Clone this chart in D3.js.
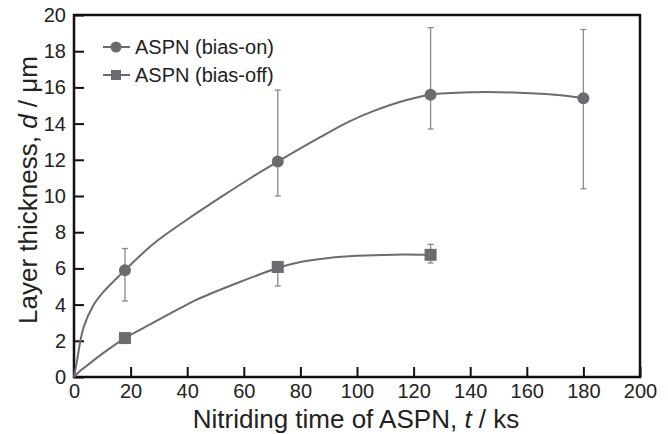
<!DOCTYPE html>
<html>
<head>
<meta charset="utf-8">
<script src="https://cdn.jsdelivr.net/npm/d3@7"></script>
<style>
  body { margin: 0; background: #fff; }
  svg { font-family: "Liberation Sans", Arial, sans-serif; }
</style>
</head>
<body>
<div id="vis"></div>
<script>
// data
const onT = [18, 72, 126, 180];
const onD = [5.9, 11.9, 15.6, 15.4];
const onLo = [4.2, 10.0, 13.7, 10.4];
const onHi = [7.1, 15.85, 19.3, 19.2];

const offT = [18, 72, 126];
const offD = [2.15, 6.08, 6.75];
const offLo = [2.0, 5.03, 6.3];
const offHi = [2.3, 6.3, 7.33];

// fitted curves
const onFitT = [0, 1, 3.3, 6.8, 10.4, 18, 28, 40, 52, 63, 72, 87, 97, 106, 117.5, 126, 141, 155, 170, 180];
const onFitD = [0, 0.85, 2.7, 3.95, 4.7, 5.9, 7.35, 8.7, 9.95, 11.05, 11.9, 13.25, 14.1, 14.7, 15.3, 15.6, 15.73, 15.72, 15.6, 15.42];
const offFitT = [0, 2, 4.5, 10.4, 18, 28, 37.5, 43, 57, 72, 80, 90, 100, 113, 126];
const offFitD = [0, 0.32, 0.62, 1.33, 2.15, 3.0, 3.8, 4.25, 5.15, 6.02, 6.35, 6.58, 6.7, 6.76, 6.75];

const xTicks = d3.range(0, 201, 20);
const yTicks = d3.range(0, 21, 2);

const W = 668, H = 434;
const M = { left: 74, right: 28, top: 15, bottom: 57 };
const LINE = "#6b6b70", BAR = "#8a8a8e";

const svg = d3.select("#vis").append("svg").attr("width", W).attr("height", H);

const x = d3.scaleLinear().domain([0, 200]).range([M.left, W - M.right]);
const y = d3.scaleLinear().domain([0, 20]).range([H - M.bottom, M.top]);

// axes (ticks inside)
const gx = svg.append("g")
    .attr("transform", `translate(0,${H - M.bottom})`)
    .call(d3.axisBottom(x).tickValues(xTicks).tickSizeInner(-10).tickSizeOuter(0).tickPadding(7));
const gy = svg.append("g")
    .attr("transform", `translate(${M.left},0)`)
    .call(d3.axisLeft(y).tickValues(yTicks).tickSizeInner(-10).tickSizeOuter(0).tickPadding(8));
[gx, gy].forEach(g => {
  g.select(".domain").remove();
  g.selectAll(".tick line").attr("stroke", "#111").attr("stroke-width", 2);
  g.selectAll(".tick text").attr("font-size", 20).attr("fill", "#222")
    .attr("font-family", "'Liberation Sans', Arial, sans-serif");
});

svg.append("rect")
    .attr("x", M.left).attr("y", M.top)
    .attr("width", W - M.left - M.right).attr("height", H - M.top - M.bottom)
    .attr("fill", "none").attr("stroke", "#111").attr("stroke-width", 2.5);

// axis titles
svg.append("text")
    .attr("x", 356).attr("y", 428)
    .attr("text-anchor", "middle").attr("font-size", 26).attr("fill", "#222")
    .html('Nitriding time of ASPN, <tspan font-style="italic">t</tspan> / ks');
svg.append("text")
    .attr("transform", "translate(37,190) rotate(-90)")
    .attr("text-anchor", "middle").attr("font-size", 26).attr("fill", "#222")
    .html('Layer thickness, <tspan font-style="italic">d</tspan> / μm');

// curves
const line = d3.line().x(d => x(d[0])).y(d => y(d[1])).curve(d3.curveCatmullRom.alpha(0.5));
svg.append("path").datum(d3.zip(onFitT, onFitD)).attr("d", line)
    .attr("fill", "none").attr("stroke", LINE).attr("stroke-width", 2);
svg.append("path").datum(d3.zip(offFitT, offFitD)).attr("d", line)
    .attr("fill", "none").attr("stroke", LINE).attr("stroke-width", 2);

// error bars
function errBars(ts, lo, hi) {
  const g = svg.append("g").attr("stroke", BAR).attr("stroke-width", 1.3);
  ts.forEach((t, i) => {
    g.append("line").attr("x1", x(t)).attr("x2", x(t)).attr("y1", y(lo[i])).attr("y2", y(hi[i]));
    [lo[i], hi[i]].forEach(v => g.append("line")
      .attr("x1", x(t) - 3).attr("x2", x(t) + 3).attr("y1", y(v)).attr("y2", y(v)));
  });
}
errBars(onT, onLo, onHi);
errBars(offT, offLo, offHi);

// markers
svg.append("g").selectAll("circle").data(d3.zip(onT, onD)).join("circle")
    .attr("cx", d => x(d[0])).attr("cy", d => y(d[1])).attr("r", 6).attr("fill", LINE);
svg.append("g").selectAll("rect").data(d3.zip(offT, offD)).join("rect")
    .attr("x", d => x(d[0]) - 6).attr("y", d => y(d[1]) - 6)
    .attr("width", 12).attr("height", 12).attr("fill", LINE);

// legend
const leg = svg.append("g").attr("transform", "translate(103,47)");
const items = ["ASPN (bias-on)", "ASPN (bias-off)"];
items.forEach((name, i) => {
  const g = leg.append("g").attr("transform", `translate(0,${i * 28})`);
  g.append("line").attr("x1", 0).attr("x2", 27).attr("stroke", LINE).attr("stroke-width", 2);
  if (i === 0) g.append("circle").attr("cx", 13).attr("r", 5.5).attr("fill", LINE);
  else g.append("rect").attr("x", 8).attr("y", -5).attr("width", 10).attr("height", 10).attr("fill", LINE);
  g.append("text").attr("x", 32).attr("dy", "0.35em").attr("font-size", 20).attr("fill", "#222").text(name);
});
</script>
</body>
</html>
